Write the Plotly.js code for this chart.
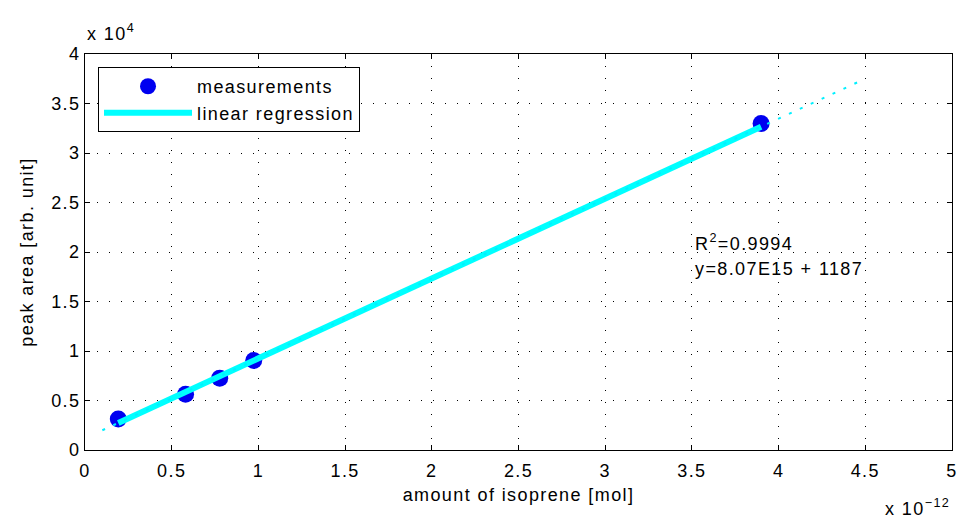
<!DOCTYPE html>
<html>
<head>
<meta charset="utf-8">
<script src="https://cdn.plot.ly/plotly-3.0.1.min.js"></script>
<style>
  html, body { margin: 0; padding: 0; background: #fff; }
  #chart { width: 957px; height: 522px; }
  svg text { letter-spacing: 1.4px; }
</style>
</head>
<body>
<div id="chart"></div>
<script>
// Calibration measurements: amount of isoprene [mol] vs. peak area [arb. unit]
const amountMol = [0.192e-12, 0.580e-12, 0.777e-12, 0.973e-12, 3.899e-12];
const peakArea = [3140, 5640, 7260, 9040, 32980];

// Fitted regression: y = slope * x + intercept
const slope = 8.07e15;
const intercept = 1187;
const rSquared = 0.9994;

// Extent of the dotted extrapolation of the fit
const extrapRange = [0.1e-12, 4.5e-12];

// Axis ticks (scaled labels, multipliers shown separately)
const xTickVals = [0, 0.5e-12, 1e-12, 1.5e-12, 2e-12, 2.5e-12, 3e-12, 3.5e-12, 4e-12, 4.5e-12, 5e-12];
const xTickText = ['0', '0.5', '1', '1.5', '2', '2.5', '3', '3.5', '4', '4.5', '5'];
const yTickVals = [0, 5000, 10000, 15000, 20000, 25000, 30000, 35000, 40000];
const yTickText = ['0', '0.5', '1', '1.5', '2', '2.5', '3', '3.5', '4'];

const fit = x => slope * x + intercept;
const xMin = Math.min(...amountMol);
const xMax = Math.max(...amountMol);

const font = { family: 'Liberation Sans, Arial, sans-serif', size: 18, color: '#000' };

const traces = [
  {
    x: amountMol, y: peakArea,
    mode: 'markers', type: 'scatter', name: 'measurements',
    marker: { color: '#0000f0', size: 17, line: { width: 0 } }
  },
  {
    x: [xMin, xMax], y: [fit(xMin), fit(xMax)],
    mode: 'lines', type: 'scatter', name: 'linear regression',
    line: { color: '#00ffff', width: 6 }
  },
  {
    x: extrapRange, y: extrapRange.map(fit),
    mode: 'lines', type: 'scatter', showlegend: false, hoverinfo: 'skip',
    line: { color: '#00f0ff', width: 2, dash: '3px,9px' }
  }
];

const axisCommon = {
  showline: true, linecolor: '#000', linewidth: 1, mirror: 'ticks',
  ticks: 'inside', ticklen: 5, tickcolor: '#000', tickwidth: 1,
  showgrid: true, gridcolor: '#000', gridwidth: 1, griddash: '1px,11px',
  zeroline: false, tickfont: font, ticklabeloverflow: 'allow'
};

const layout = {
  width: 957, height: 522,
  margin: { l: 85, r: 5, t: 54, b: 72 },
  paper_bgcolor: '#fff', plot_bgcolor: '#fff',
  font: font,
  showlegend: true,
  legend: {
    x: 0.015, y: 0.967, xanchor: 'left', yanchor: 'top',
    bgcolor: '#fff', bordercolor: '#000', borderwidth: 1,
    font: font,
    itemwidth: 88, tracegroupgap: 0
  },
  xaxis: Object.assign({}, axisCommon, {
    range: [0, 5.00001e-12], tickvals: xTickVals, ticktext: xTickText,
    ticklabelstandoff: 4,
    title: { text: 'amount of isoprene [mol]', font: font, standoff: 8 }
  }),
  yaxis: Object.assign({}, axisCommon, {
    range: [0, 40000.1], tickvals: yTickVals, ticktext: yTickText,
    title: { text: 'peak area [arb. unit]', font: font, standoff: 12 }
  }),
  annotations: [
    {
      xref: 'paper', yref: 'paper', x: 0, y: 1, xanchor: 'left', yanchor: 'bottom',
      yshift: 8, text: 'x 10<sup>4</sup>', showarrow: false, font: font
    },
    {
      xref: 'paper', yref: 'paper', x: 1, y: 0, xanchor: 'right', yanchor: 'top',
      yshift: -44, text: 'x 10<sup>\u221212</sup>', showarrow: false, font: font
    },
    {
      xref: 'x', yref: 'y', x: 3.505e-12, y: 21000, xanchor: 'left', yanchor: 'middle',
      text: 'R<sup>2</sup>=' + rSquared, showarrow: false, font: font
    },
    {
      xref: 'x', yref: 'y', x: 3.505e-12, y: 18300, xanchor: 'left', yanchor: 'middle',
      text: 'y=8.07E15 + ' + intercept, showarrow: false, font: font
    }
  ]
};

Plotly.newPlot('chart', traces, layout, { displayModeBar: false, staticPlot: true });
</script>
</body>
</html>
